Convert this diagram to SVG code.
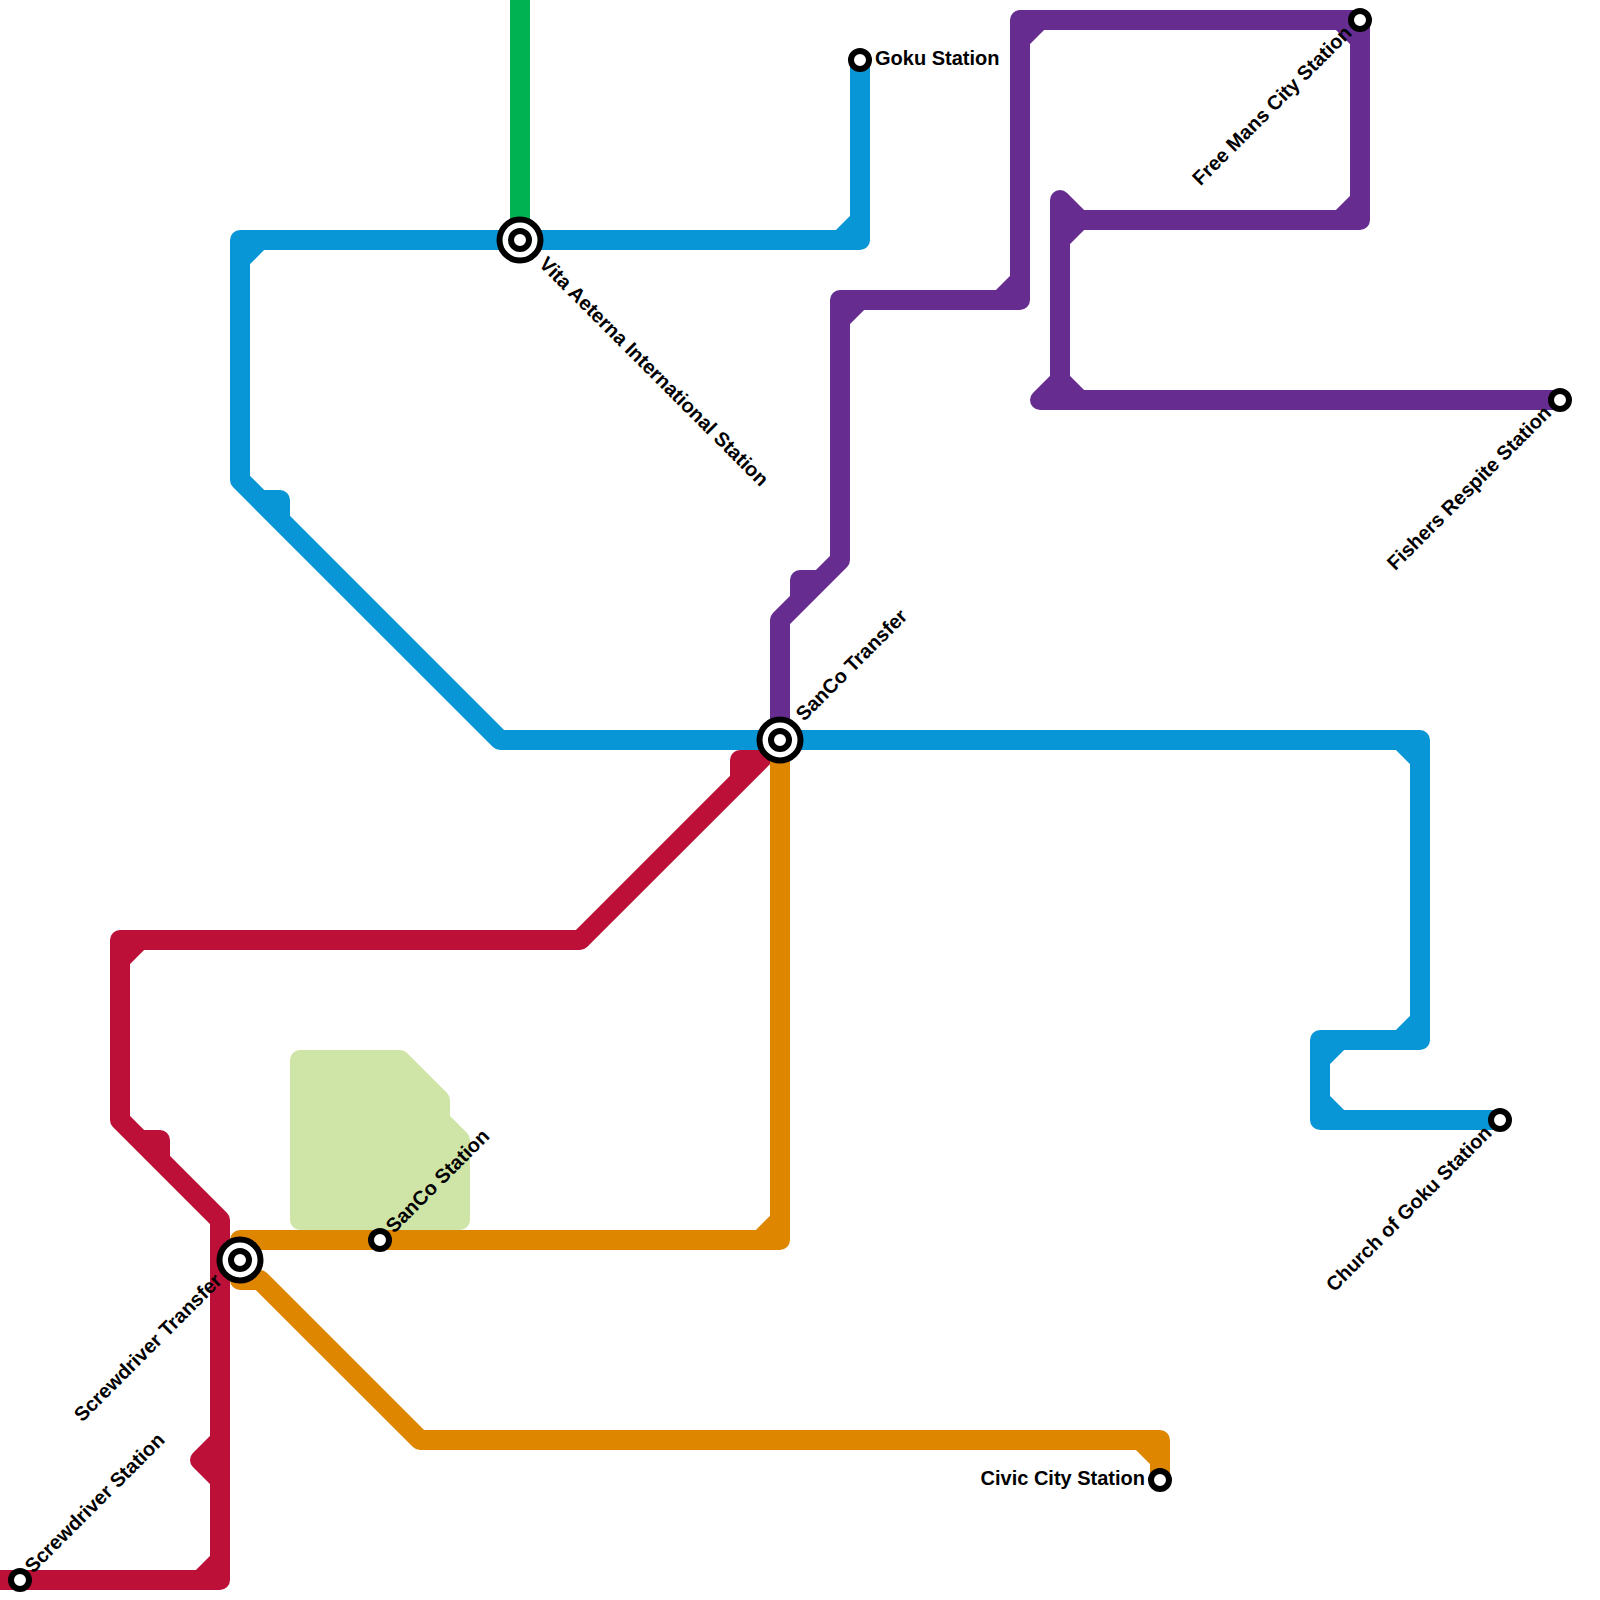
<svg xmlns="http://www.w3.org/2000/svg" width="1600" height="1600" viewBox="0 0 1600 1600">
<style>
.ln{fill:none;stroke-width:20;stroke-linejoin:round;stroke-linecap:butt}
.blue{stroke:#0896d7}.purple{stroke:#662c90}.red{stroke:#bd1038}.orange{stroke:#df8600}.green{stroke:#00b251}
.ring{fill:#fff;stroke:#000;stroke-width:6}
text{font-family:"Liberation Sans",Arial,sans-serif;font-weight:bold;font-size:20px;fill:#000}
.e{text-anchor:end}
</style>
<rect width="1600" height="1600" fill="#fff"/>
<polygon id="park" points="300,1060 400,1060 440,1100 440,1120 460,1140 460,1220 300,1220" fill="#cfe5a7" stroke="#cfe5a7" stroke-width="20" stroke-linejoin="round"/>
<g id="connectors">
<path class="ln green" d="M520 0V240"/>
<path class="ln red" d="M0 1580H220V1220L120 1120V940H580L780 740M120 960L140 940M200 1580L220 1560M140 1140H160V1160M740 780V760H760M220 1440L200 1460L220 1480"/>
<path class="ln orange" d="M780 760V1240H240V1280H260L420 1440H1160V1480M760 1240L780 1220M1140 1440L1160 1460"/>
<path class="ln blue" d="M860 60V240H240V480L500 740H1420V1040H1320V1120H1500M240 260L260 240M840 240L860 220M260 500H280V520M1400 740L1420 760M1400 1040L1420 1020M1320 1060L1340 1040M1320 1100L1340 1120"/>
<path class="ln purple" d="M780 740V620L840 560V300H1020V20H1360V220H1080M1080 220L1060 200V400M1060 380L1040 400H1560M1060 380L1080 400M1060 240L1080 220M840 320L860 300M1000 300L1020 280M1020 40L1040 20M1340 20L1360 40M1340 220L1360 200M800 600V580H820"/>
</g>
<g id="vita"><circle class="ring" cx="520" cy="240" r="20.5"/><circle class="ring" cx="520" cy="240" r="9"/><text transform="translate(538,265) rotate(45)">Vita Aeterna International Station</text></g>
<g id="sanco-transfer"><circle class="ring" cx="780" cy="740" r="20.5"/><circle class="ring" cx="780" cy="740" r="9"/><text transform="translate(804,722) rotate(-45)">SanCo Transfer</text></g>
<g id="screwdriver-transfer"><circle class="ring" cx="240" cy="1260" r="20.5"/><circle class="ring" cx="240" cy="1260" r="9"/><text class="e" transform="translate(223,1282) rotate(-45)">Screwdriver Transfer</text></g>
<g id="goku"><circle class="ring" cx="860" cy="60" r="9"/><text x="875" y="65">Goku Station</text></g>
<g id="free-mans"><circle class="ring" cx="1360" cy="20" r="9"/><text class="e" transform="translate(1353,34) rotate(-45)">Free Mans City Station</text></g>
<g id="fishers"><circle class="ring" cx="1560" cy="400" r="9"/><text class="e" transform="translate(1552.5,414) rotate(-45)">Fishers Respite Station</text></g>
<g id="church"><circle class="ring" cx="1500" cy="1120" r="9"/><text class="e" transform="translate(1493,1134) rotate(-45)">Church of Goku Station</text></g>
<g id="civic"><circle class="ring" cx="1160" cy="1480" r="9"/><text class="e" x="1145" y="1485">Civic City Station</text></g>
<g id="sanco-station"><circle class="ring" cx="380" cy="1240" r="9"/><text transform="translate(394,1234) rotate(-45)">SanCo Station</text></g>
<g id="screwdriver-station"><circle class="ring" cx="20" cy="1580" r="9"/><text transform="translate(33,1574) rotate(-45)">Screwdriver Station</text></g>
</svg>
